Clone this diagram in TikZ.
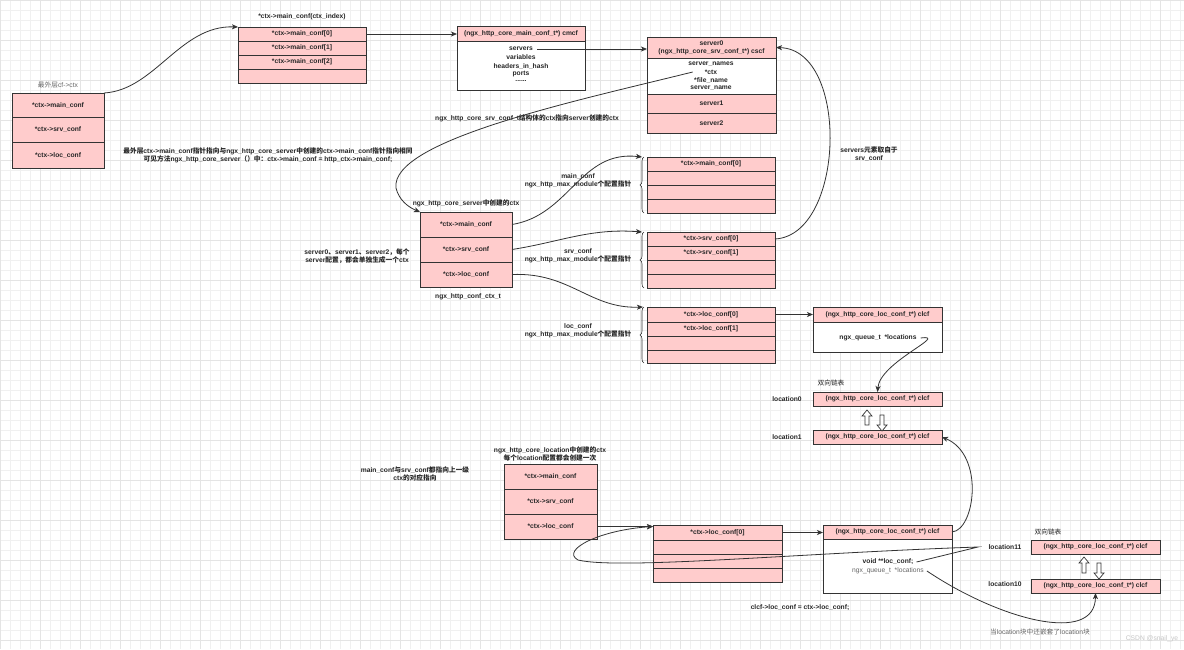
\documentclass[tikz,border=0pt]{standalone}
\usepackage{fontspec}
\setmainfont{Liberation Sans}
\newfontfamily\cjkfam{Noto Sans CJK SC}
\newcount\cjkc
\cjkc="3000
\loop \XeTeXcharclass\cjkc=7 \advance\cjkc by 1 \ifnum\cjkc<"3040 \repeat
\cjkc="4E00
\loop \XeTeXcharclass\cjkc=7 \advance\cjkc by 1 \ifnum\cjkc<"A000 \repeat
\cjkc="FF00
\loop \XeTeXcharclass\cjkc=7 \advance\cjkc by 1 \ifnum\cjkc<"FFF0 \repeat
\XeTeXinterchartoks 0 7 = {\cjkfam}
\XeTeXinterchartoks 4095 7 = {\cjkfam}
\XeTeXinterchartoks 7 0 = {\rmfamily}
\XeTeXinterchartoks 7 4095 = {\rmfamily}
\XeTeXinterchartokenstate=1
\usetikzlibrary{arrows.meta,decorations.pathreplacing}
\definecolor{pinkc}{HTML}{FFCCCC}
\definecolor{linec}{HTML}{333333}
\definecolor{textc}{HTML}{262626}
\definecolor{grayt}{HTML}{666666}
\definecolor{gridc}{HTML}{F0F0F0}
\definecolor{gridm}{HTML}{E4E4E4}
\newcommand\fs{\fontsize{6.7}{8}\selectfont\bfseries}
\newcommand\mkcell[7]{\node[cellst,fill=#6,minimum width={#4pt-#2pt},minimum height={#5pt-#3pt}] (#1) at ({(#2+#4)/2},{(#3+#5)/2}) {#7};}
\newcommand\uparrw[3]{\draw[blk] ({#1-2},#3) -- ({#1-2},{#2+6}) -- ({#1-5},{#2+6}) -- (#1,#2) -- ({#1+5},{#2+6}) -- ({#1+2},{#2+6}) -- ({#1+2},#3) -- cycle;}
\newcommand\downarrw[3]{\draw[blk] ({#1-2},#2) -- ({#1-2},{#3-6}) -- ({#1-5},{#3-6}) -- (#1,#3) -- ({#1+5},{#3-6}) -- ({#1+2},{#3-6}) -- ({#1+2},#2) -- cycle;}
\tikzset{
  cellst/.style={draw=linec, line width=0.8pt, inner sep=0pt, outer sep=0pt, font=\fs, text=textc, align=center},
  txt/.style={inner sep=0pt, font=\fs, text=textc},
  lite/.style={inner sep=0pt, font=\fs\mdseries, text=grayt},
  mtxt/.style={inner sep=0pt, font=\fs, text=textc, align=center},
  arr/.style={draw=linec, line width=0.8pt, -{Stealth[length=6pt,width=5pt,inset=1.5pt]}},
  brc/.style={draw=linec, line width=0.6pt, decorate, decoration={brace,amplitude=4pt,aspect=0.5}},
  blk/.style={draw=linec, line width=0.7pt, fill=white}
}
\begin{document}
\begin{tikzpicture}[x=1pt,y=-1pt]
\useasboundingbox (0,0) rectangle (1184,649);
\fill[white] (0,0) rectangle (1184,649);
\foreach \i in {0,10,...,1180} \draw[gridc,line width=0.4pt] (\i,0) -- (\i,649);
\foreach \j in {0,10,...,640} \draw[gridc,line width=0.4pt] (0,\j) -- (1184,\j);
\foreach \i in {0,40,...,1180} \draw[gridm,line width=0.4pt] (\i,0) -- (\i,649);
\foreach \j in {0,40,...,640} \draw[gridm,line width=0.4pt] (0,\j) -- (1184,\j);

% outer ctx
\mkcell{o1}{12}{93}{104}{117}{pinkc}{*ctx->main\_conf}
\mkcell{o2}{12}{117}{104}{142}{pinkc}{*ctx->srv\_conf}
\mkcell{o3}{12}{142}{104}{168}{pinkc}{*ctx->loc\_conf}
\node[lite] (lo) at (58,85) {最外层cf->ctx};

% main_conf array
\mkcell{mc0}{238}{27}{366}{41}{pinkc}{*ctx->main\_conf[0]}
\mkcell{mc1}{238}{41}{366}{55}{pinkc}{*ctx->main\_conf[1]}
\mkcell{mc2}{238}{55}{366}{69}{pinkc}{*ctx->main\_conf[2]}
\mkcell{mc3}{238}{69}{366}{83}{pinkc}{}
\node[txt] (lmc) at (302,17) {*ctx->main\_conf(ctx\_index)};

% cmcf
\mkcell{cmh}{457}{26}{585}{41}{pinkc}{(ngx\_http\_core\_main\_conf\_t*) cmcf}
\mkcell{cmb}{457}{41}{585}{90}{white}{}
\node[txt] (cm1) at (521,49) {servers};
\node[txt] (cm2) at (521,57.5) {variables};
\node[txt] (cm3) at (521,66) {headers\_in\_hash};
\node[txt] (cm4) at (521,74) {ports};
\node[txt] (cm5) at (521,81) {......};

% server0
\mkcell{s0h}{647}{37}{776}{58}{pinkc}{server0\\(ngx\_http\_core\_srv\_conf\_t*) cscf}
\mkcell{s0b}{647}{58}{776}{94}{white}{}
\node[txt] (sv1) at (711,64) {server\_names};
\node[txt] (sv2) at (711,72) {*ctx};
\node[txt] (sv3) at (711,80.5) {*file\_name};
\node[txt] (sv4) at (711,88.5) {server\_name};
\mkcell{s1}{647}{94}{776}{113}{pinkc}{server1}
\mkcell{s2}{647}{113}{776}{133}{pinkc}{server2}

% notes
\node[mtxt] (note1) at (268,155) {最外层ctx->main\_conf指针指向与ngx\_http\_core\_server中创建的ctx->main\_conf指针指向相同\\可见方法ngx\_http\_core\_server（）中：ctx->main\_conf = http\_ctx->main\_conf;};
\node[txt] (note2) at (527,118) {ngx\_http\_core\_srv\_conf\_t结构体的ctx指向server创建的ctx};
\node[mtxt] (note3) at (869,154) {servers元素取自于\\srv\_conf};

% middle ctx
\mkcell{m1}{420}{212}{512}{237}{pinkc}{*ctx->main\_conf}
\mkcell{m2}{420}{237}{512}{262}{pinkc}{*ctx->srv\_conf}
\mkcell{m3}{420}{262}{512}{287}{pinkc}{*ctx->loc\_conf}
\node[txt] (lm) at (466,203) {ngx\_http\_core\_server中创建的ctx};
\node[txt] (lmb) at (468,297) {ngx\_http\_conf\_ctx\_t};
\node[mtxt] (lml) at (357,256) {server0、server1、server2，每个\\server配置，都会单独生成一个ctx};

% main_conf array 2
\mkcell{a0}{647}{157}{775}{171}{pinkc}{*ctx->main\_conf[0]}
\mkcell{a1}{647}{171}{775}{185}{pinkc}{}
\mkcell{a2}{647}{185}{775}{199}{pinkc}{}
\mkcell{a3}{647}{199}{775}{213}{pinkc}{}
\draw[brc] (644,213) -- (644,157);
\node[mtxt] (la) at (578,180.5) {main\_conf\\ngx\_http\_max\_module个配置指针};

% srv_conf array
\mkcell{sa0}{647}{232}{775}{246}{pinkc}{*ctx->srv\_conf[0]}
\mkcell{sa1}{647}{246}{775}{260}{pinkc}{*ctx->srv\_conf[1]}
\mkcell{sa2}{647}{260}{775}{274}{pinkc}{}
\mkcell{sa3}{647}{274}{775}{288}{pinkc}{}
\draw[brc] (644,288) -- (644,232);
\node[mtxt] (lsa) at (578,255.5) {srv\_conf\\ngx\_http\_max\_module个配置指针};

% loc_conf array
\mkcell{la0}{647}{307}{775}{322}{pinkc}{*ctx->loc\_conf[0]}
\mkcell{la1}{647}{322}{775}{336}{pinkc}{*ctx->loc\_conf[1]}
\mkcell{la2}{647}{336}{775}{350}{pinkc}{}
\mkcell{la3}{647}{350}{775}{363}{pinkc}{}
\draw[brc] (644,363) -- (644,307);
\node[mtxt] (lla) at (578,330.5) {loc\_conf\\ngx\_http\_max\_module个配置指针};

% clcf
\mkcell{ch}{813}{307}{942}{322}{pinkc}{(ngx\_http\_core\_loc\_conf\_t*) clcf}
\mkcell{cb}{813}{322}{942}{352}{white}{}
\node[txt] (cl1) at (878,338) {ngx\_queue\_t~~*locations};
\node[lite,text=textc] (dl1) at (831,383) {双向链表};
\mkcell{l0}{813}{392}{942}{406}{pinkc}{(ngx\_http\_core\_loc\_conf\_t*) clcf}
\mkcell{l1}{813}{430}{942}{444}{pinkc}{(ngx\_http\_core\_loc\_conf\_t*) clcf}
\node[txt] (ll0) at (787,399) {location0};
\node[txt] (ll1) at (787,437) {location1};
\uparrw{867}{410}{425}
\downarrw{882}{415}{431}

% bottom
\node[mtxt] (lb1) at (415,474) {main\_conf与srv\_conf都指向上一级\\ctx的对应指向};
\node[mtxt] (lb2) at (550,454) {ngx\_http\_core\_location中创建的ctx\\每个location配置都会创建一次};
\mkcell{b1}{504}{464}{597}{489}{pinkc}{*ctx->main\_conf}
\mkcell{b2}{504}{489}{597}{514}{pinkc}{*ctx->srv\_conf}
\mkcell{b3}{504}{514}{597}{539}{pinkc}{*ctx->loc\_conf}
\mkcell{bl0}{653}{525}{782}{540}{pinkc}{*ctx->loc\_conf[0]}
\mkcell{bl1}{653}{540}{782}{554}{pinkc}{}
\mkcell{bl2}{653}{554}{782}{568}{pinkc}{}
\mkcell{bl3}{653}{568}{782}{582}{pinkc}{}
\mkcell{c2h}{823}{525}{952}{539}{pinkc}{(ngx\_http\_core\_loc\_conf\_t*) clcf}
\mkcell{c2b}{823}{539}{952}{593}{white}{}
\node[txt] (vd) at (888,562) {void **loc\_conf;};
\node[lite] (c2q) at (888,571) {ngx\_queue\_t~~*locations};
\node[txt] (eq) at (800,608) {clcf->loc\_conf = ctx->loc\_conf;};

% right lists
\node[lite,text=textc] (dl2) at (1048,532) {双向链表};
\mkcell{l11}{1031}{540}{1160}{554}{pinkc}{(ngx\_http\_core\_loc\_conf\_t*) clcf}
\mkcell{l10}{1031}{579}{1160}{593}{pinkc}{(ngx\_http\_core\_loc\_conf\_t*) clcf}
\node[txt] (ll11) at (1005,547) {location11};
\node[txt] (ll10) at (1005,584) {location10};
\uparrw{1084}{557}{573}
\downarrw{1099}{563}{579}
\node[lite] (nest) at (1040,632) {当location块中还嵌套了location块};
\node[lite,text=gray!45] (wm) at (1152,639) {CSDN @snail\_ye};

% connectors
\draw[arr] (o1.north east) .. controls (155,90) and (180,25) .. (mc0.north west);
\draw[arr] (mc0.east) -- (mc0.east -| cmh.west);
\draw[arr] ([xshift=4pt]cm1.east) -- (cm1.east -| s0h.west);
\draw[arr] ([xshift=-12pt]sv2.west) .. controls (580,100) and (390,140) .. (396,188) .. controls (399,200) and (408,207) .. (m1.north west);
\draw[arr] (m1.east) .. controls (570,215) and (580,150) .. ([xshift=-5pt]a0.north west);
\draw[arr] (m2.east) .. controls (560,242) and (590,228) .. ([xshift=-5pt]sa0.north west);
\draw[arr] (m3.east) .. controls (570,272) and (590,309) .. ([xshift=-4pt]la0.north west);
\draw[arr] (sa0.east) .. controls (845,235) and (850,50) .. (s0h.east);
\draw[arr] (la0.east) -- (la0.east -| ch.west);
\draw[arr] ([xshift=4pt]cl1.east) .. controls (950,334) and (880,362) .. (l0.north);
\draw[arr] (c2h.east) .. controls (975,530) and (985,455) .. (l1.east);
\draw[arr] (b3.east) -- (b3.east -| bl0.west);
\draw[arr] (bl0.east) -- (bl0.east -| c2h.west);
\coordinate (tip) at (978,547);
\draw[arr] ([xshift=3pt]vd.east) -- (tip) .. controls (800,553) and (620,570) .. (578,560) .. controls (560,550) and (600,530) .. (b3.east -| bl0.west);
\draw[arr] ([xshift=3pt]c2q.east) .. controls (1000,620) and (1095,645) .. (l10.south);
\end{tikzpicture}
\end{document}
